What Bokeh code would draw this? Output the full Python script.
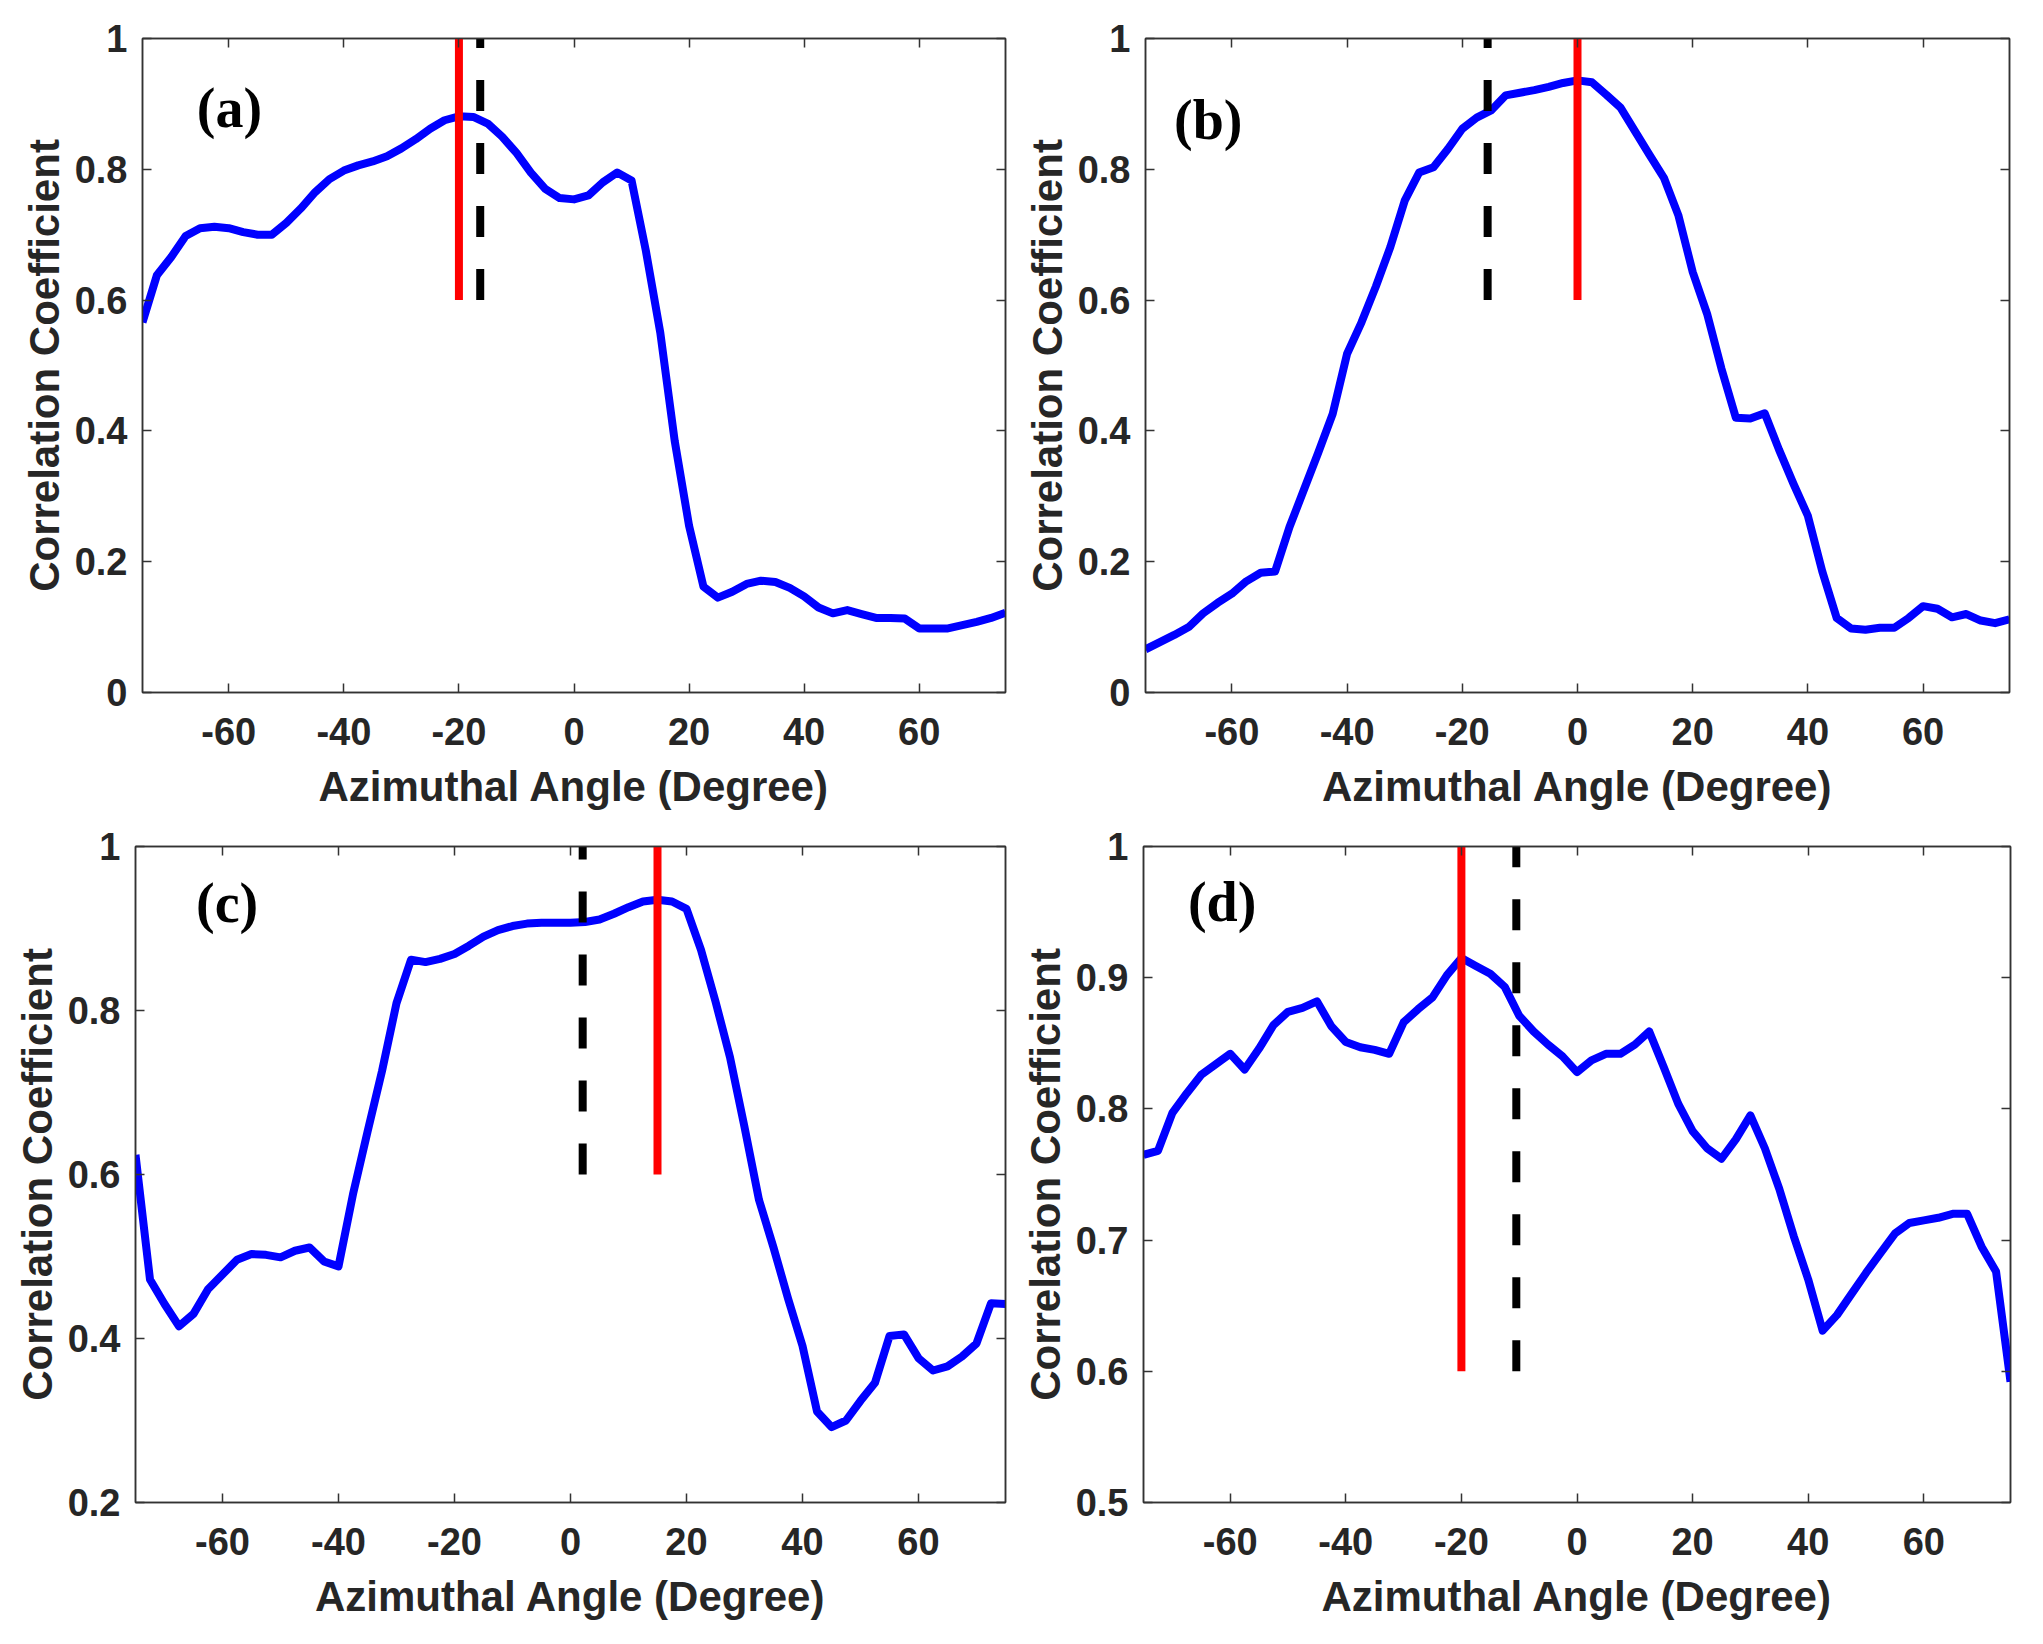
from bokeh.plotting import figure
from bokeh.models import LinearAxis, FixedTicker, CustomJSTickFormatter, Range1d
from bokeh.layouts import row, column
from bokeh.core.properties import value
from bokeh.embed import file_html
from bokeh.resources import INLINE

# ---------------- data ----------------
angles = [-75, -72.5, -70, -67.5, -65, -62.5, -60, -57.5, -55, -52.5, -50, -47.5,
          -45, -42.5, -40, -37.5, -35, -32.5, -30, -27.5, -25, -22.5, -20, -17.5,
          -15, -12.5, -10, -7.5, -5, -2.5, 0, 2.5, 5, 7.5, 10, 12.5, 15, 17.5, 20,
          22.5, 25, 27.5, 30, 32.5, 35, 37.5, 40, 42.5, 45, 47.5, 50, 52.5, 55,
          57.5, 60, 62.5, 65, 67.5, 70, 72.5, 75]

corr_a = [0.566, 0.638, 0.666, 0.698, 0.710, 0.712, 0.710, 0.704, 0.700, 0.700,
          0.718, 0.740, 0.765, 0.785, 0.798, 0.806, 0.812, 0.820, 0.832, 0.846,
          0.862, 0.875, 0.881, 0.880, 0.870, 0.850, 0.825, 0.795, 0.770, 0.756,
          0.754, 0.760, 0.780, 0.795, 0.783, 0.675, 0.550, 0.385, 0.255, 0.162,
          0.145, 0.154, 0.166, 0.171, 0.169, 0.160, 0.147, 0.130, 0.121, 0.126,
          0.120, 0.114, 0.114, 0.113, 0.098, 0.098, 0.098, 0.103, 0.108, 0.114,
          0.122]

corr_b = [0.066, 0.077, 0.088, 0.100, 0.121, 0.137, 0.151, 0.170, 0.183, 0.185,
          0.253, 0.310, 0.367, 0.426, 0.518, 0.566, 0.621, 0.681, 0.752, 0.795,
          0.803, 0.831, 0.862, 0.879, 0.890, 0.913, 0.917, 0.921, 0.926, 0.932,
          0.936, 0.933, 0.914, 0.894, 0.858, 0.822, 0.787, 0.730, 0.643, 0.579,
          0.495, 0.420, 0.419, 0.427, 0.371, 0.319, 0.270, 0.185, 0.114, 0.098,
          0.096, 0.099, 0.099, 0.114, 0.132, 0.128, 0.115, 0.120, 0.110, 0.106,
          0.112]

corr_c = [0.624, 0.472, 0.442, 0.415, 0.430, 0.460, 0.478, 0.496, 0.503, 0.502,
          0.499, 0.507, 0.511, 0.494, 0.488, 0.576, 0.652, 0.726, 0.809, 0.862,
          0.859, 0.863, 0.869, 0.879, 0.890, 0.898, 0.903, 0.906, 0.907, 0.907,
          0.907, 0.908, 0.911, 0.918, 0.926, 0.933, 0.935, 0.933, 0.924, 0.874,
          0.811, 0.743, 0.658, 0.569, 0.511, 0.449, 0.391, 0.311, 0.292, 0.300,
          0.324, 0.346, 0.403, 0.405, 0.376, 0.361, 0.366, 0.378, 0.394, 0.443,
          0.442]

corr_d = [0.765, 0.768, 0.797, 0.812, 0.826, 0.834, 0.842, 0.830, 0.846, 0.864,
          0.874, 0.877, 0.882, 0.863, 0.851, 0.847, 0.845, 0.842, 0.866, 0.876,
          0.885, 0.902, 0.915, 0.909, 0.903, 0.893, 0.871, 0.859, 0.849, 0.840,
          0.828, 0.837, 0.842, 0.842, 0.849, 0.859, 0.832, 0.804, 0.783, 0.770,
          0.762, 0.777, 0.795, 0.770, 0.739, 0.703, 0.670, 0.631, 0.643, 0.659,
          0.675, 0.690, 0.705, 0.713, 0.715, 0.717, 0.720, 0.720, 0.695, 0.676,
          0.592]

panel_labels = ["(a)", "(b)", "(c)", "(d)"]
peak_angles = [-20, 0, 15, -20]          # red solid markers
est_angles = [-16.3, -15.6, 2.1, -10.5]  # black dashed markers
marker_span = [0.6, 1.0]

x_ticks = [-60, -40, -20, 0, 20, 40, 60]
y_ticks_ab = [0, 0.2, 0.4, 0.6, 0.8, 1]
y_ticks_c = [0.2, 0.4, 0.6, 0.8, 1]
y_ticks_d = [0.5, 0.6, 0.7, 0.8, 0.9, 1]

x_label = "Azimuthal Angle (Degree)"
y_label = "Correlation Coefficient"

# ---------------- styling ----------------
AX = "#333333"
TXT = "#262626"
SANS = "Liberation Sans"
SERIF = "Liberation Serif"


def style_axis(ax, ticks, show_labels):
    ax.ticker = FixedTicker(ticks=ticks)
    ax.major_tick_in = 9
    ax.major_tick_out = 0
    ax.minor_tick_line_color = None
    ax.major_tick_line_color = AX
    ax.major_tick_line_width = 1.5
    ax.axis_line_color = AX
    ax.axis_line_width = 1.5
    if show_labels:
        ax.formatter = CustomJSTickFormatter(code="return String(tick);")
        ax.major_label_text_font = SANS
        ax.major_label_text_font_style = "bold"
        ax.major_label_text_font_size = "38px"
        ax.major_label_text_color = TXT
        ax.axis_label_text_font = SANS
        ax.axis_label_text_font_style = "bold"
        ax.axis_label_text_font_size = "42px"
        ax.axis_label_text_color = TXT
    else:
        ax.formatter = CustomJSTickFormatter(code="return '';")
        ax.major_label_text_font_size = "1px"
        ax.major_label_standoff = 0


def make_panel(series, y_lo, y_hi, y_ticks, label, label_xy, peak, est,
               width, height, bl, br, bt, bb):
    p = figure(width=width, height=height,
               x_range=Range1d(-75, 75), y_range=Range1d(y_lo, y_hi),
               output_backend="svg", toolbar_location=None,
               min_border_left=bl, min_border_right=br,
               min_border_top=bt, min_border_bottom=bb)
    p.grid.visible = False
    p.outline_line_color = AX
    p.outline_line_width = 1.5
    p.background_fill_color = "white"
    p.border_fill_color = "white"

    xa = p.xaxis[0]
    style_axis(xa, x_ticks, True)
    xa.axis_label = x_label
    xa.major_label_standoff = 25
    xa.axis_label_standoff = 15

    ya = p.yaxis[0]
    style_axis(ya, y_ticks, True)
    ya.axis_label = y_label
    ya.major_label_standoff = 15
    ya.axis_label_standoff = 4

    top = LinearAxis()
    style_axis(top, x_ticks, False)
    p.add_layout(top, "above")
    right = LinearAxis()
    style_axis(right, y_ticks, False)
    p.add_layout(right, "right")

    p.line(angles, series, line_color="#0000FF", line_width=8, line_join="round")
    p.line([peak, peak], marker_span, line_color="#FF0000", line_width=8)
    p.line([est, est], marker_span, line_color="#000000", line_width=8,
           line_dash="31 32", line_cap="butt")

    p.text(x=[label_xy[0]], y=[label_xy[1]], text=[label],
           text_font=value(SERIF), text_font_style="bold",
           text_font_size="56px", text_color="#000000",
           text_align="center", text_baseline="middle")
    return p


pa = make_panel(corr_a, 0, 1, y_ticks_ab, panel_labels[0], (-59.9, 0.894),
                peak_angles[0], est_angles[0], 1018, 824, 142, 13, 38, 131)
pb = make_panel(corr_b, 0, 1, y_ticks_ab, panel_labels[1], (-64.1, 0.876),
                peak_angles[1], est_angles[1], 1015, 824, 127, 24, 38, 132)
pc = make_panel(corr_c, 0.2, 1, y_ticks_c, panel_labels[2], (-59.2, 0.931),
                peak_angles[2], est_angles[2], 1018, 814, 135, 13, 18, 136)
pd = make_panel(corr_d, 0.5, 1, y_ticks_d, panel_labels[3], (-61.4, 0.958),
                peak_angles[3], est_angles[3], 1015, 814, 125, 23, 22, 136)

layout = column(row(pa, pb), row(pc, pd))

open("out.html", "w").write(file_html(layout, INLINE))
